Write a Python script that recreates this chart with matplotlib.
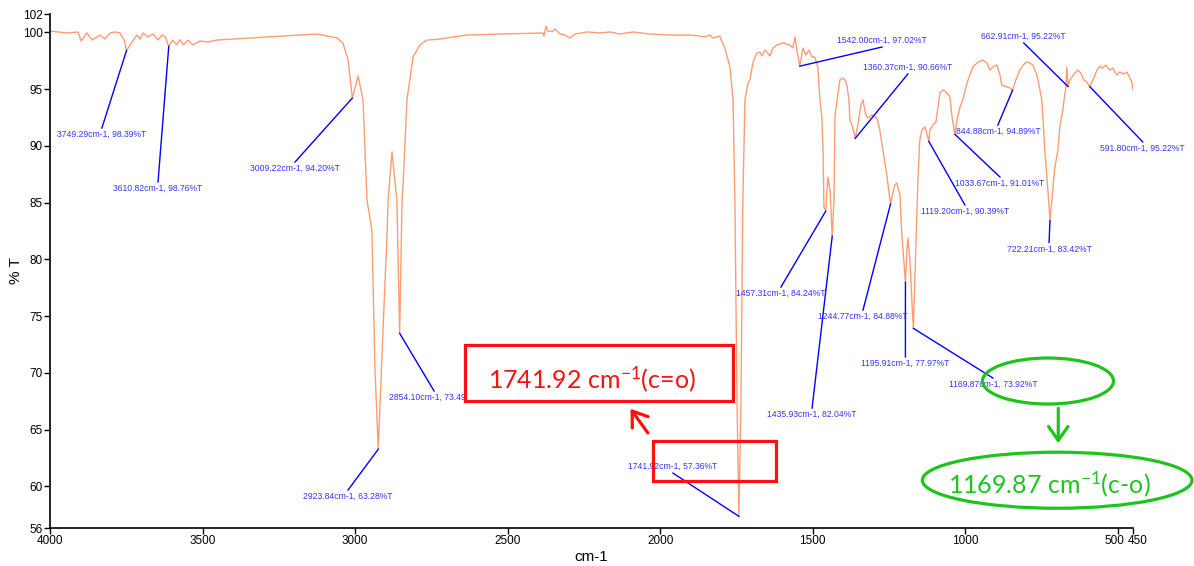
import matplotlib
matplotlib.use("Agg")
import matplotlib.pyplot as plt
from matplotlib.patches import Rectangle, Ellipse

plt.rcParams['font.family'] = ['Liberation Sans Narrow', 'Liberation Sans', 'DejaVu Sans']
plt.rcParams['mathtext.fontset'] = 'custom'
plt.rcParams['mathtext.rm'] = 'Lato'
plt.rcParams['mathtext.default'] = 'regular'

# FT-IR spectrum (wavenumber cm-1, %T)
wavenumber = [
    4000, 3944, 3908, 3898, 3879, 3862, 3836, 3820, 3803, 3787, 3771, 3757, 3749,
    3731, 3715, 3705, 3695, 3679, 3662, 3646, 3633, 3622, 3611, 3598, 3585, 3575,
    3562, 3548, 3531, 3508, 3482, 3453, 3400, 3344, 3289, 3236, 3181, 3125, 3089,
    3059, 3040, 3023, 3009, 2990, 2974, 2961, 2945, 2935, 2924, 2909, 2895, 2892,
    2879, 2863, 2854, 2846, 2843, 2830, 2810, 2787, 2764, 2722, 2633, 2525, 2384,
    2381, 2374, 2368, 2351, 2345, 2328, 2312, 2296, 2279, 2240, 2197, 2165, 2132,
    2089, 2033, 1968, 1902, 1870, 1853, 1837, 1827, 1804, 1797, 1788, 1771, 1761,
    1755, 1748, 1742, 1735, 1729, 1722, 1712, 1706, 1696, 1683, 1673, 1666, 1657,
    1650, 1640, 1630, 1617, 1597, 1575, 1565, 1558, 1552, 1542, 1532, 1522, 1512,
    1502, 1493, 1483, 1476, 1470, 1466, 1463, 1457, 1453, 1450, 1443, 1436, 1430,
    1427, 1420, 1411, 1401, 1394, 1388, 1381, 1378, 1371, 1360, 1352, 1342, 1335,
    1326, 1319, 1306, 1289, 1280, 1270, 1257, 1245, 1231, 1224, 1214, 1208, 1196,
    1191, 1188, 1181, 1175, 1170, 1162, 1155, 1149, 1142, 1132, 1119, 1116, 1106,
    1096, 1083, 1073, 1063, 1050, 1044, 1034, 1027, 1017, 1008, 994, 985, 975,
    958, 942, 929, 919, 909, 896, 886, 880, 863, 853, 845, 834, 821, 804, 795,
    778, 765, 755, 749, 739, 729, 722, 716, 706, 696, 690, 680, 673, 670, 667,
    663, 657, 650, 640, 631, 621, 611, 601, 592, 581, 568, 558, 549, 539, 526,
    516, 503, 493, 480, 470, 460, 454, 450,
]
transmittance = [
    100.11, 99.94, 100.03, 99.23, 99.94, 99.32, 99.76, 99.41, 99.94, 100.03, 99.94, 99.32, 98.39,
    99.15, 99.76, 99.41, 99.94, 99.59, 99.85, 99.32, 99.76, 99.6, 98.76, 99.32, 98.9, 99.35,
    98.9, 99.3, 98.9, 99.23, 99.15, 99.32, 99.41, 99.5, 99.59, 99.67, 99.76, 99.85, 99.67,
    99.5, 99.06, 97.56, 94.20, 96.15, 94.04, 85.2, 82.6, 70.5, 63.28, 73.5, 82.3, 85.2,
    89.46, 85.2, 73.49, 85.2, 86.5, 94.04, 97.82, 98.9, 99.32, 99.41, 99.76, 99.85, 99.94,
    99.67, 100.55, 100.1, 100.1, 100.3, 99.85, 99.76, 99.5, 99.85, 100.03, 99.94, 100.03, 99.85,
    100.03, 99.85, 99.76, 99.76, 99.67, 99.59, 99.76, 99.5, 99.67, 99.15, 98.62, 96.94, 94.04,
    85.2, 67.6, 57.36, 67.6, 85.2, 94.04, 95.53, 95.8, 97.3, 98.18, 98.26, 97.91, 98.44,
    98.26, 97.91, 98.62, 98.88, 99.06, 98.88, 98.62, 99.59, 98.44, 97.02, 98.62, 98.0, 98.44,
    97.82, 97.82, 96.94, 94.04, 92.54, 89.63, 84.61, 84.24, 86.11, 87.25, 86.11, 82.04, 85.23,
    92.54, 94.04, 95.8, 95.97, 95.8, 95.36, 94.04, 92.27, 91.83, 90.66, 91.83, 93.59, 94.04,
    92.71, 92.45, 92.71, 92.45, 91.39, 89.63, 87.43, 84.88, 86.55, 86.72, 85.67, 82.32, 77.97,
    80.82, 81.88, 79.94, 76.41, 73.92, 80.82, 87.0, 90.5, 91.39, 91.66, 90.39, 91.39, 91.83,
    92.09, 94.65, 94.92, 94.74, 94.3, 92.71, 91.01, 92.27, 93.42, 94.04, 95.53, 96.24, 96.94,
    97.38, 97.56, 97.3, 96.68, 96.94, 97.12, 96.24, 95.36, 95.18, 95.09, 94.89, 95.8, 96.68, 97.3, 97.38,
    97.12, 96.24, 94.92, 94.04, 89.63, 86.11, 83.42, 85.23, 88.13, 89.63, 91.66, 93.16, 94.65, 95.09, 96.94,
    95.22, 95.8, 96.06, 96.41, 96.68, 96.41, 95.8, 95.62, 95.22, 95.8, 96.68, 97.03, 96.85, 97.12, 96.68,
    96.85, 96.24, 96.5, 96.33, 96.5, 95.97, 95.62, 94.92,
]

# picked peaks (label values)
peak_wn = [3749.29, 3610.82, 3009.22, 2923.84, 2854.10, 1741.92, 1542.00, 1457.31, 1435.93,
           1360.37, 1244.77, 1195.91, 1169.87, 1119.20, 1033.67, 844.88, 722.21, 662.91, 591.80]
peak_T = [98.39, 98.76, 94.20, 63.28, 73.49, 57.36, 97.02, 84.24, 82.04,
          90.66, 84.88, 77.97, 73.92, 90.39, 91.01, 94.89, 83.42, 95.22, 95.22]
peak_text = ["%.2fcm-1, %.2f%%T" % (w, t) for w, t in zip(peak_wn, peak_T)]

# where each leader line ends (label anchor)
label_wn = [3830, 3646, 3197, 3023, 2741, 1958, 1273, 1604, 1502,
            1188, 1335, 1196, 909, 1001, 886, 893, 725, 808, 418]
label_T = [91.57, 86.81, 88.57, 59.68, 68.40, 61.17, 98.70, 77.56, 66.90,
           96.33, 75.53, 71.40, 69.54, 84.79, 87.25, 91.83, 81.5, 99.06, 90.34]

x_ticks = [4000, 3500, 3000, 2500, 2000, 1500, 1000, 500, 450]
ymin, ymax = 56.33, 101.61

fig = plt.figure(figsize=(11.94, 5.66), dpi=100)
ax = fig.add_axes([0.0419, 0.0671, 0.9070, 0.9081])

ax.plot(wavenumber, transmittance, color="#ff9c73", lw=1.0)

for pw, pt, lw_, lt, txt in zip(peak_wn, peak_T, label_wn, label_T, peak_text):
    ax.plot([pw, lw_], [pt, lt], color="#0000ff", lw=1.0, clip_on=False)
    up = lt > pt
    ax.annotate(txt, xy=(lw_, lt), xytext=(0, 1.5 if up else -1.5), textcoords="offset points",
                ha="center", va="bottom" if up else "top", color="#3333ff", fontsize=6.2,
                annotation_clip=False)

ax.set_xlim(4000, 450)
ax.set_ylim(ymin, ymax)
ax.set_xticks(x_ticks)
# last two labels sit almost on top of each other, so they are placed by hand just below
ax.set_xticklabels([str(v) for v in x_ticks[:-2]] + ["", ""], fontsize=8.5)
for v, dx in [(x_ticks[-2], -2.2), (x_ticks[-1], 3.6)]:
    ax.annotate(str(v), xy=(v, ymin), xytext=(dx, -5), textcoords="offset points",
                ha="center", va="top", fontsize=8.5, annotation_clip=False)
yt = [ymin, 60, 65, 70, 75, 80, 85, 90, 95, 100, ymax]
ax.set_yticks(yt)
ax.set_yticklabels(["56", "60", "65", "70", "75", "80", "85", "90", "95", "100", "102"], fontsize=8.5)
ax.tick_params(direction="out", length=4, width=1, pad=1)
for s in ["top", "right"]:
    ax.spines[s].set_visible(False)
for s in ["left", "bottom"]:
    ax.spines[s].set_linewidth(1.2)
ax.set_xlabel("cm-1", fontsize=11, labelpad=2)
ax.set_ylabel("% T", fontsize=11, labelpad=0)

# red highlight for C=O
red = "#ff1010"
ax.add_patch(Rectangle((0.383, 0.247), 0.248, 0.109, transform=ax.transAxes, facecolor="white",
                       edgecolor=red, lw=2.3, clip_on=False, zorder=5))
ax.add_patch(Rectangle((0.557, 0.091), 0.113, 0.078, transform=ax.transAxes, fill=False,
                       edgecolor=red, lw=2.3, clip_on=False, zorder=5))
ax.text(0.500, 0.272, "1741.92 cm$^{-1}$(c=o)", transform=ax.transAxes, ha="center", va="baseline",
        color=red, fontsize=18, family="Lato", zorder=6)
ax.annotate("", xy=(0.536, 0.232), xytext=(0.552, 0.185), xycoords="axes fraction",
            arrowprops=dict(arrowstyle="->,head_length=0.5,head_width=0.35", color=red, lw=2.3,
                            shrinkA=0, shrinkB=0, mutation_scale=20))

# green highlight for C-O
green = "#1ec31e"
ax.add_patch(Ellipse((0.9215, 0.286), 0.121, 0.0895, transform=ax.transAxes, fill=False,
                     edgecolor=green, lw=2.3, clip_on=False, zorder=5))
ax.annotate("", xy=(0.931, 0.165), xytext=(0.931, 0.233), xycoords="axes fraction",
            arrowprops=dict(arrowstyle="->,head_length=0.5,head_width=0.35", color=green, lw=2.3,
                            shrinkA=0, shrinkB=0, mutation_scale=20))
ax.add_patch(Ellipse((0.930, 0.093), 0.249, 0.109, transform=ax.transAxes, fill=False,
                     edgecolor=green, lw=2.3, clip_on=False, zorder=5))
ax.text(0.923, 0.068, "1169.87 cm$^{-1}$(c-o)", transform=ax.transAxes, ha="center", va="baseline",
        color=green, fontsize=18, family="Lato", zorder=6)

fig.savefig("out.png", dpi=100)
